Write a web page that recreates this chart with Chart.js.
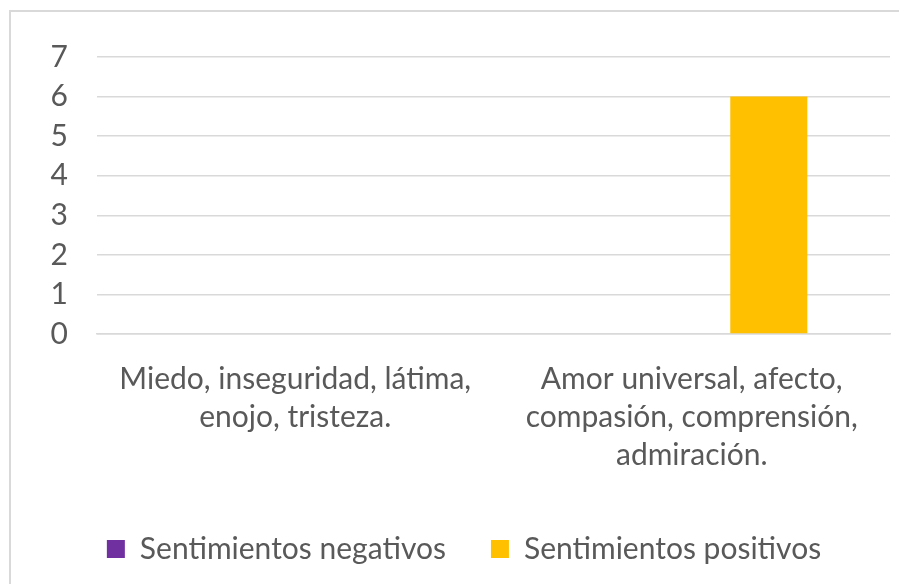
<!DOCTYPE html>
<html>
<head>
<meta charset="utf-8">
<script src="https://cdn.jsdelivr.net/npm/chart.js@4"></script>
<style>
  html, body { margin: 0; padding: 0; background: #fff; overflow: hidden; }
  .frame { position: absolute; left: 9px; top: 10px; width: 1000px; height: 1000px; border: 2px solid #d9d9d9; }
  #chartCanvas { position: absolute; left: 0; top: 0; }
</style>
</head>
<body>
<div class="frame"></div>
<canvas id="chartCanvas" width="899" height="584"></canvas>
<script>
// Categories (multi-line labels as in the original)
const categories = [
    ['Miedo, inseguridad, látima,', 'enojo, tristeza.'],
    ['Amor universal, afecto,', 'compasión, comprensión,', 'admiración.']
];

// Series values
const negativos = [0, 0];
const serieVacia = [0, 0]; // empty middle series, not shown in legend
const positivos = [0, 6];

// Y axis range
const yMin = 0;
const yMax = 7;
const yStep = 1;

const textColor = '#595959';
const fontFamily = 'Lato, "Open Sans", sans-serif';

const ctx = document.getElementById('chartCanvas');
new Chart(ctx, {
    type: 'bar',
    data: {
        labels: categories,
        datasets: [{
            label: 'Sentimientos negativos',
            data: negativos,
            backgroundColor: '#7030A0'
        }, {
            label: '',
            data: serieVacia,
            backgroundColor: '#A5A5A5'
        }, {
            label: 'Sentimientos positivos',
            data: positivos,
            backgroundColor: '#FFC000'
        }]
    },
    options: {
        responsive: false,
        animation: false,
        categoryPercentage: 0.583,
        barPercentage: 1,
        layout: {
            padding: { left: 38, right: 9, top: 57, bottom: 10 }
        },
        plugins: {
            tooltip: { enabled: false },
            legend: {
                position: 'bottom',
                labels: {
                    color: textColor,
                    font: { family: fontFamily, size: 30 },
                    boxWidth: 18,
                    boxHeight: 18,
                    padding: 45,
                    filter: function(item) { return item.text !== ''; }
                }
            }
        },
        scales: {
            x: {
                grid: { display: false, drawTicks: false },
                border: { display: true, color: '#d9d9d9', width: 1.5 },
                ticks: {
                    color: textColor,
                    padding: 26,
                    maxRotation: 0,
                    autoSkip: false,
                    font: { family: fontFamily, size: 30, lineHeight: 1.27 }
                },
                afterFit: function(scale) { scale.height = 155; }
            },
            y: {
                min: yMin,
                max: yMax,
                grid: { color: '#d9d9d9', lineWidth: 1.5, drawTicks: false },
                border: { display: false },
                ticks: {
                    stepSize: yStep,
                    color: textColor,
                    padding: 29,
                    font: { family: fontFamily, size: 30 }
                },
                afterFit: function(scale) { scale.width = 59; }
            }
        }
    }
});
</script>
</body>
</html>
